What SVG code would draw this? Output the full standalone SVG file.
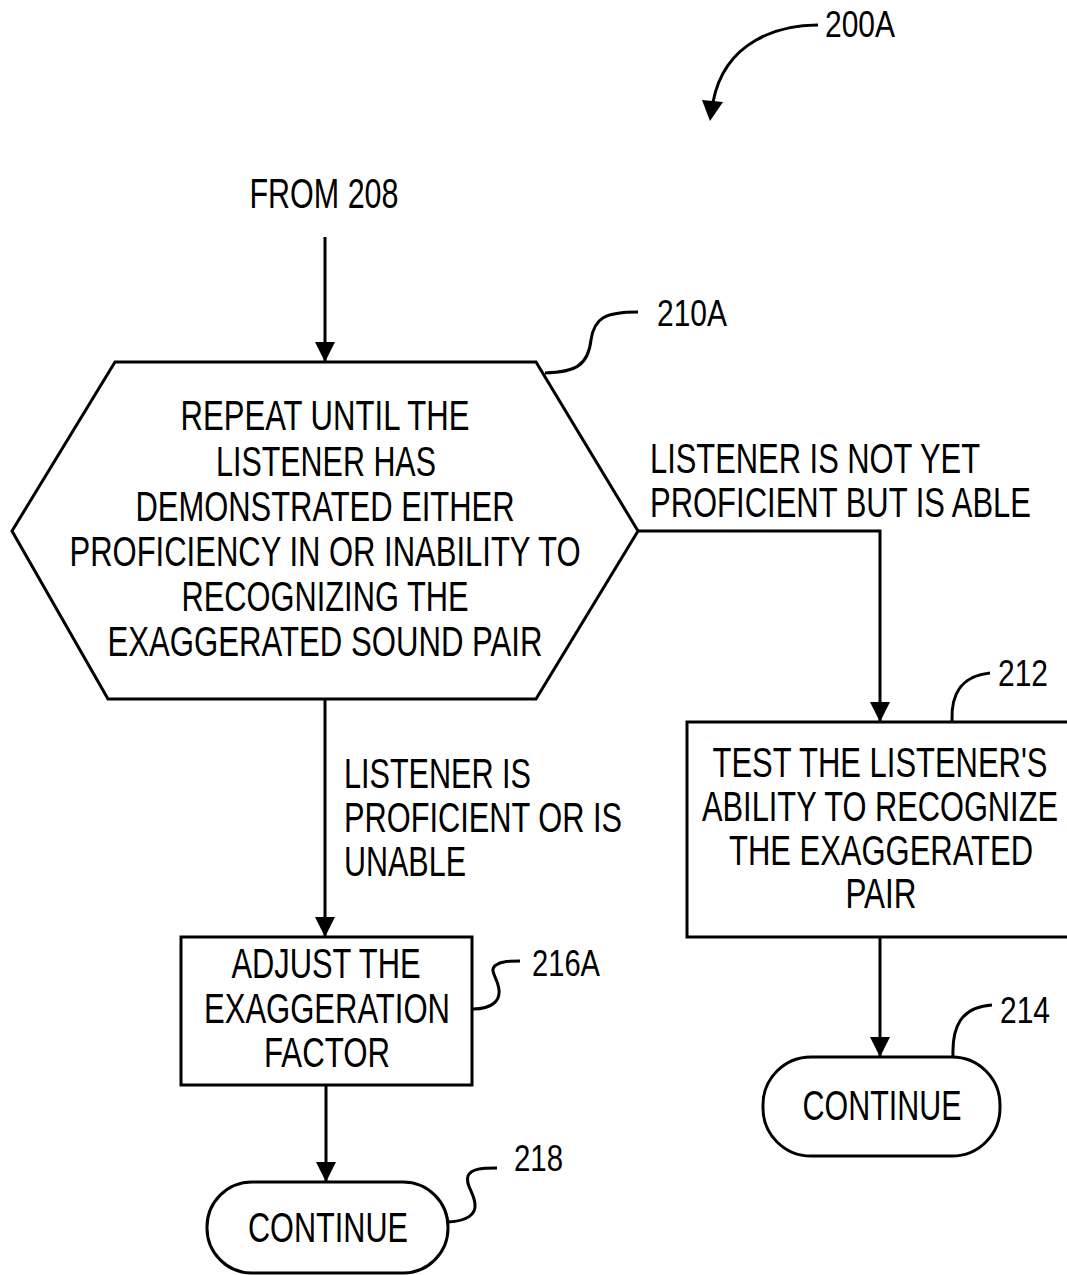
<svg xmlns="http://www.w3.org/2000/svg" width="1067" height="1275" viewBox="0 0 1067 1275">
<defs>
<style>
.t{font-family:"Liberation Sans",Arial,sans-serif;font-size:42px;fill:#000;text-anchor:middle}
.l{font-family:"Liberation Sans",Arial,sans-serif;font-size:36px;fill:#000}
.m{font-family:"Liberation Sans",Arial,sans-serif;font-size:42px;fill:#000}
.s{fill:#fff;stroke:#000;stroke-width:3}
.c{fill:none;stroke:#000;stroke-width:3}
</style>
<marker id="ah" viewBox="0 0 20 20" refX="20" refY="10" markerWidth="20" markerHeight="20" markerUnits="userSpaceOnUse" orient="auto">
<path d="M0,0 L20,10 L0,20 Z" fill="#000"/>
</marker>
</defs>
<rect width="1067" height="1275" fill="#fff"/>

<g id="connectors">
<path class="c" d="M325,237 V362" marker-end="url(#ah)"/>
<path class="c" d="M325,699 V937" marker-end="url(#ah)"/>
<path class="c" d="M638,531 H880 V722" marker-end="url(#ah)"/>
<path class="c" d="M326,1085 V1182" marker-end="url(#ah)"/>
<path class="c" d="M880,937 V1057" marker-end="url(#ah)"/>
</g>

<g id="ref200A">
<path class="c" d="M818,25 C780,25 725,40 713,102"/>
<path d="M702,100 L723,102 L710,121 Z" fill="#000"/>
<text class="l" x="825" y="37" textLength="70" lengthAdjust="spacingAndGlyphs">200A</text>
</g>

<g id="from208">
<text class="t" x="324" y="208" textLength="149" lengthAdjust="spacingAndGlyphs">FROM 208</text>
</g>

<g id="node210A">
<polygon class="s" points="115,362 536,362 638,531 536,699 108,699 12,531"/>
<text class="t" x="325" y="430" textLength="289" lengthAdjust="spacingAndGlyphs">REPEAT UNTIL THE</text>
<text class="t" x="326" y="476" textLength="220" lengthAdjust="spacingAndGlyphs">LISTENER HAS</text>
<text class="t" x="325" y="521" textLength="379" lengthAdjust="spacingAndGlyphs">DEMONSTRATED EITHER</text>
<text class="t" x="325" y="566" textLength="511" lengthAdjust="spacingAndGlyphs">PROFICIENCY IN OR INABILITY TO</text>
<text class="t" x="325" y="611" textLength="287" lengthAdjust="spacingAndGlyphs">RECOGNIZING THE</text>
<text class="t" x="325" y="656" textLength="435" lengthAdjust="spacingAndGlyphs">EXAGGERATED SOUND PAIR</text>
<path class="c" d="M545,373 C575,372 588,366 591,340 C594,318 605,312 638,312"/>
<text class="l" x="657" y="326" textLength="70" lengthAdjust="spacingAndGlyphs">210A</text>
</g>

<g id="labelRight">
<text class="m" x="650" y="473" textLength="330" lengthAdjust="spacingAndGlyphs">LISTENER IS NOT YET</text>
<text class="m" x="650" y="517" textLength="381" lengthAdjust="spacingAndGlyphs">PROFICIENT BUT IS ABLE</text>
</g>

<g id="labelLeft">
<text class="m" x="344" y="788" textLength="187" lengthAdjust="spacingAndGlyphs">LISTENER IS</text>
<text class="m" x="344" y="832" textLength="278" lengthAdjust="spacingAndGlyphs">PROFICIENT OR IS</text>
<text class="m" x="344" y="876" textLength="122" lengthAdjust="spacingAndGlyphs">UNABLE</text>
</g>

<g id="node212">
<path class="s" d="M1070,722 H687 V937 H1070"/>
<text class="t" x="880" y="777" textLength="335" lengthAdjust="spacingAndGlyphs">TEST THE LISTENER'S</text>
<text class="t" x="880" y="821" textLength="356" lengthAdjust="spacingAndGlyphs">ABILITY TO RECOGNIZE</text>
<text class="t" x="881" y="865" textLength="304" lengthAdjust="spacingAndGlyphs">THE EXAGGERATED</text>
<text class="t" x="881" y="908" textLength="71" lengthAdjust="spacingAndGlyphs">PAIR</text>
<path class="c" d="M952,721 C951,695 960,676 990,673"/>
<text class="l" x="998" y="686" textLength="50" lengthAdjust="spacingAndGlyphs">212</text>
</g>

<g id="node216A">
<rect class="s" x="181" y="937" width="291" height="148"/>
<text class="t" x="326" y="978" textLength="189" lengthAdjust="spacingAndGlyphs">ADJUST THE</text>
<text class="t" x="327" y="1023" textLength="246" lengthAdjust="spacingAndGlyphs">EXAGGERATION</text>
<text class="t" x="327" y="1067" textLength="126" lengthAdjust="spacingAndGlyphs">FACTOR</text>
<path class="c" d="M473,1009 C493,1009 500,1000 499,990 C498,978 488,970 496,965 C502,961 510,961 520,961"/>
<text class="l" x="532" y="976" textLength="68" lengthAdjust="spacingAndGlyphs">216A</text>
</g>

<g id="node214">
<rect class="s" x="763" y="1057" width="237" height="99" rx="48" ry="48"/>
<text class="t" x="882" y="1120" textLength="159" lengthAdjust="spacingAndGlyphs">CONTINUE</text>
<path class="c" d="M953,1056 C952,1028 960,1007 992,1005"/>
<text class="l" x="1000" y="1023" textLength="50" lengthAdjust="spacingAndGlyphs">214</text>
</g>

<g id="node218">
<rect class="s" x="207" y="1182" width="241" height="91" rx="45" ry="45"/>
<text class="t" x="328" y="1242" textLength="160" lengthAdjust="spacingAndGlyphs">CONTINUE</text>
<path class="c" d="M448,1222 C468,1221 476,1214 475,1204 C474,1192 465,1185 468,1176 C471,1169 480,1168 497,1168"/>
<text class="l" x="514" y="1171" textLength="49" lengthAdjust="spacingAndGlyphs">218</text>
</g>
</svg>
